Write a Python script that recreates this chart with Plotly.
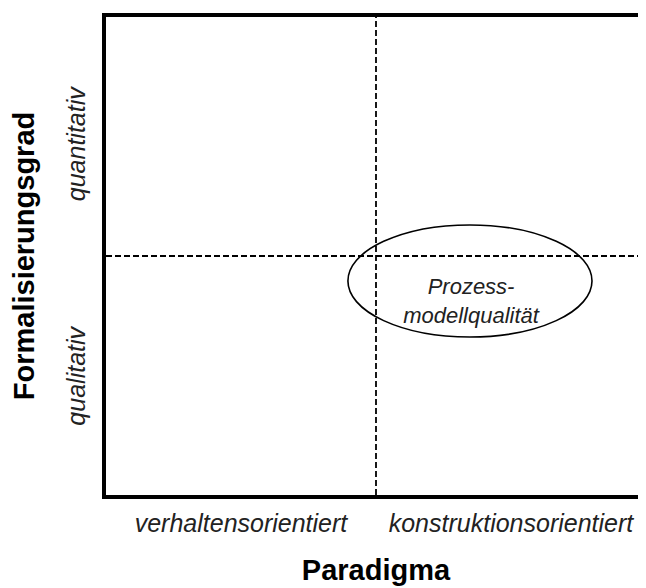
import plotly.graph_objects as go

# Data
x_categories = ["verhaltensorientiert", "konstruktionsorientiert"]
x_tick_pos = [0.5, 1.5]
y_categories = ["qualitativ", "quantitativ"]
y_tick_pos = [0.481, 1.452]
x_title = "Paradigma"
y_title = "Formalisierungsgrad"
divider_x = 1.0
divider_y = 1.0
ellipse_bounds = {"x0": 0.896, "x1": 1.800, "y0": 0.661, "y1": 1.130}
ellipse_label = "Prozess-<br>modellqualität"
ellipse_label_pos = (1.352, 0.804)

FONT = "Arial, Liberation Sans, sans-serif"

fig = go.Figure()

fig.add_trace(go.Scatter(
    x=[ellipse_label_pos[0]], y=[ellipse_label_pos[1]],
    mode="text", text=[ellipse_label],
    textfont=dict(family=FONT, size=22, color="#222222", style="italic"),
    hoverinfo="skip", showlegend=False,
))

fig.add_shape(type="line", x0=divider_x, x1=divider_x, y0=0, y1=2,
              xref="x", yref="y", line=dict(color="black", width=1.8, dash="6px,3px"))
fig.add_shape(type="line", x0=0, x1=2, y0=divider_y, y1=divider_y,
              xref="x", yref="y", line=dict(color="black", width=1.8, dash="6px,3px"))
fig.add_shape(type="circle", xref="x", yref="y", **ellipse_bounds,
              line=dict(color="black", width=1.6))

fig.update_layout(
    width=638, height=580,
    margin=dict(l=98, r=0, t=9, b=93, autoexpand=False),
    paper_bgcolor="white", plot_bgcolor="white",
    showlegend=False,
    xaxis=dict(
        range=[0, 2], showgrid=False, zeroline=False, automargin=False,
        showline=True, linecolor="black", linewidth=4, mirror=True,
        tickvals=x_tick_pos, ticktext=x_categories, ticks="",
        ticklabelstandoff=3,
        tickfont=dict(family=FONT, size=25, color="#222222", style="italic"),
        title=dict(text="<b>" + x_title + "</b>", standoff=25,
                   font=dict(family=FONT, size=29, color="black")),
    ),
    yaxis=dict(
        range=[0, 2], showgrid=False, zeroline=False, automargin=False,
        showline=True, linecolor="black", linewidth=4, mirror=False,
        tickvals=y_tick_pos, ticktext=y_categories, ticks="", tickangle=-90,
        ticklabelstandoff=7,
        tickfont=dict(family=FONT, size=25, color="#222222", style="italic"),
        title=dict(text="<b>" + y_title + "</b>", standoff=20,
                   font=dict(family=FONT, size=29, color="black")),
    ),
)

fig.write_html("out.html", post_script="document.body.style.overflow='hidden';")
